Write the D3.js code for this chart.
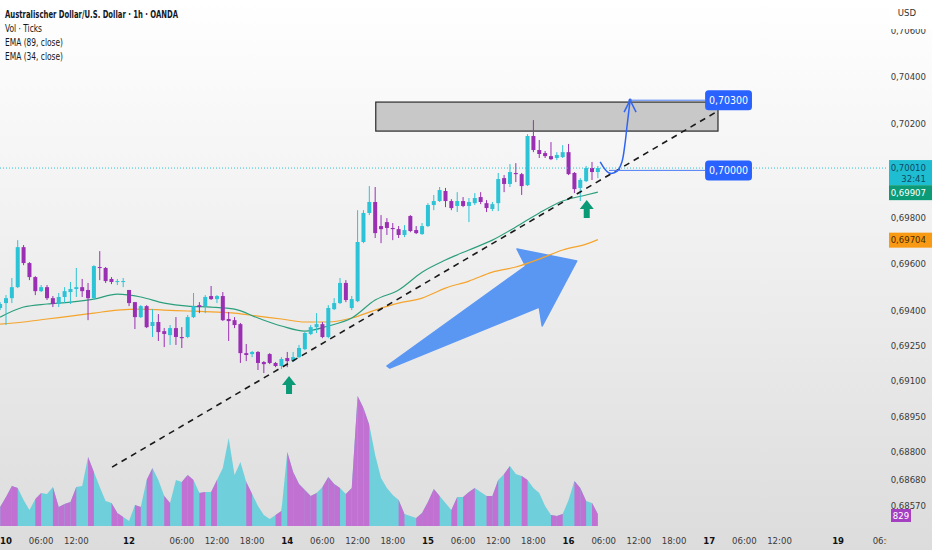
<!DOCTYPE html>
<html>
<head>
<meta charset="utf-8">
<script src="https://cdn.jsdelivr.net/npm/d3@7"></script>
<style>
html, body { margin: 0; padding: 0; overflow: hidden; background: #fff; }
svg { display: block; font-family: "Liberation Sans Narrow", "Arial Narrow", "DejaVu Sans Condensed", sans-serif; }
</style>
</head>
<body>
<svg id="chart" width="932" height="550"></svg>
<script>
// bar index: 0 = the 10th 00:00, 1h bars, weekend removed (21 = Sunday 21:00)
const firstBar = -1;
const opens = [0.69412,
  0.69433,0.69454,0.69501,0.69672,0.69604,0.69544,0.69484,0.69501,0.69454,0.69429,
  0.69459,0.69480,0.69493,0.69501,0.69489,0.69454,0.69587,0.69583,0.69536,0.69523,
  0.69523,0.69489,0.69437,0.69373,0.69420,0.69335,0.69352,0.69313,0.69296,0.69326,
  0.69288,0.69288,0.69373,0.69424,0.69420,0.69463,0.69450,0.69463,0.69365,0.69360,
  0.69343,0.69219,0.69215,0.69224,0.69181,0.69215,0.69177,0.69164,0.69198,0.69185,
  0.69202,0.69236,0.69301,0.69330,0.69343,0.69288,0.69407,0.69433,0.69519,0.69412,
  0.69441,0.69694,0.69818,0.69865,0.69762,0.69779,0.69754,0.69749,0.69724,0.69805,
  0.69745,0.69728,0.69762,0.69852,0.69869,0.69912,0.69869,0.69848,0.69869,0.69848,
  0.69860,0.69886,0.69860,0.69835,0.69860,0.69967,0.69942,0.69989,0.69984,0.69937,
  0.70147,0.70087,0.70074,0.70061,0.70053,0.70057,0.70078,0.69989,0.69925,0.69954,
  0.70010,0.69993];
const highs = [0.69437,
  0.69467,0.69540,0.69702,0.69681,0.69608,0.69548,0.69510,0.69510,0.69463,0.69476,
  0.69501,0.69523,0.69583,0.69536,0.69519,0.69595,0.69655,0.69587,0.69544,0.69536,
  0.69540,0.69489,0.69437,0.69424,0.69424,0.69407,0.69386,0.69326,0.69339,0.69373,
  0.69330,0.69382,0.69476,0.69437,0.69467,0.69506,0.69467,0.69480,0.69395,0.69373,
  0.69348,0.69258,0.69228,0.69228,0.69185,0.69219,0.69181,0.69202,0.69224,0.69224,
  0.69254,0.69309,0.69339,0.69390,0.69352,0.69424,0.69454,0.69540,0.69531,0.69463,
  0.69830,0.69830,0.69933,0.69929,0.69809,0.69796,0.69775,0.69762,0.69766,0.69809,
  0.69762,0.69775,0.69860,0.69895,0.69929,0.69925,0.69877,0.69907,0.69886,0.69882,
  0.69903,0.69907,0.69873,0.69865,0.69989,0.69980,0.70027,0.70031,0.69989,0.70155,
  0.70215,0.70130,0.70083,0.70121,0.70078,0.70108,0.70113,0.69993,0.69967,0.70019,
  0.70036,0.70019];
const lows = [0.69403,
  0.69339,0.69433,0.69497,0.69595,0.69531,0.69467,0.69480,0.69446,0.69416,0.69416,
  0.69433,0.69429,0.69459,0.69459,0.69360,0.69446,0.69531,0.69519,0.69514,0.69510,
  0.69501,0.69420,0.69322,0.69369,0.69326,0.69288,0.69271,0.69245,0.69254,0.69254,
  0.69241,0.69283,0.69369,0.69390,0.69390,0.69446,0.69433,0.69356,0.69271,0.69326,
  0.69177,0.69185,0.69202,0.69147,0.69134,0.69172,0.69159,0.69151,0.69159,0.69181,
  0.69198,0.69232,0.69296,0.69305,0.69283,0.69283,0.69403,0.69429,0.69437,0.69403,
  0.69437,0.69689,0.69809,0.69711,0.69689,0.69724,0.69702,0.69711,0.69715,0.69736,
  0.69728,0.69724,0.69758,0.69830,0.69865,0.69843,0.69830,0.69822,0.69843,0.69779,
  0.69852,0.69856,0.69822,0.69826,0.69826,0.69907,0.69929,0.69950,0.69895,0.69933,
  0.70078,0.70053,0.70053,0.70044,0.70044,0.70053,0.69980,0.69903,0.69869,0.69950,
  0.69959,0.69967];
const closes = [0.69429,
  0.69454,0.69501,0.69672,0.69604,0.69544,0.69484,0.69501,0.69454,0.69429,0.69459,
  0.69484,0.69493,0.69501,0.69484,0.69454,0.69591,0.69583,0.69527,0.69523,0.69527,
  0.69527,0.69433,0.69373,0.69420,0.69330,0.69352,0.69309,0.69301,0.69326,0.69288,
  0.69283,0.69373,0.69420,0.69416,0.69459,0.69450,0.69463,0.69360,0.69356,0.69339,
  0.69219,0.69211,0.69224,0.69177,0.69172,0.69177,0.69164,0.69194,0.69185,0.69202,
  0.69241,0.69305,0.69330,0.69343,0.69288,0.69412,0.69433,0.69519,0.69446,0.69450,
  0.69694,0.69818,0.69865,0.69732,0.69749,0.69754,0.69749,0.69724,0.69745,0.69741,
  0.69732,0.69762,0.69852,0.69869,0.69916,0.69869,0.69839,0.69869,0.69848,0.69865,
  0.69882,0.69865,0.69839,0.69856,0.69963,0.69942,0.69993,0.69984,0.69933,0.70147,
  0.70087,0.70070,0.70061,0.70048,0.70066,0.70078,0.69984,0.69920,0.69959,0.70010,
  0.69993,0.70010];
const volumes = [1310,
  2000,2760,2620,1790,1100,1860,2280,2210,2690,1310,
  1520,1660,2690,2760,4760,3730,2690,1730,1590,900,
  620,350,1450,1310,3170,4000,3170,2070,1590,3170,
  3040,3520,3170,2280,2350,2350,3170,4000,6070,3520,
  4420,3040,2210,1380,760,480,760,1040,5110,3730,
  2900,2480,2070,2280,2690,3380,2900,2620,2210,2620,
  8970,8140,6970,4900,3310,2620,2140,1790,830,690,
  550,900,1660,2550,2070,1590,1100,2000,2000,2350,
  2620,2350,2070,2070,3170,3590,4140,3590,3450,3170,
  2620,2280,1380,760,690,830,1790,3110,2620,1730,
  1590,829];

// EMA values at every 4th bar
const emaBars = [-1,3,7,11,15,19,23,27,31,35,39,43,47,51,55,59,63,67,71,75,79,83,87,91,95,99,101];
const ema34 = [0.69373,0.69416,0.69429,0.69437,0.69450,0.69471,0.69459,0.69433,0.69420,0.69416,0.69407,0.69369,0.69335,0.69313,0.69335,0.69369,0.69446,0.69489,0.69565,0.69617,0.69660,0.69702,0.69758,0.69818,0.69869,0.69895,0.69907];
const ema89 = [0.69343,0.69352,0.69365,0.69377,0.69390,0.69403,0.69407,0.69403,0.69399,0.69395,0.69390,0.69377,0.69365,0.69352,0.69352,0.69369,0.69403,0.69433,0.69454,0.69497,0.69527,0.69565,0.69587,0.69621,0.69660,0.69685,0.69704];

const priceTicks = [0.706,0.704,0.702,0.698,0.696,0.694,0.6925,0.691,0.6895,0.688,0.6868,0.6857];
const timeTickBars = [0,6,12,21,30,36,42,48,54,60,66,72,78,84,90,96,102,108,114,120,126,132,142,150];
const timeTickLabels = ["10","06:00","12:00","12","06:00","12:00","18:00","14","06:00","12:00","18:00","15","06:00","12:00","18:00","16","06:00","12:00","18:00","17","06:00","12:00","19","06:00"];

// drawings (bar, price)
const zoneBars = [63.1, 121.5], zonePrices = [0.70292, 0.70168];
const trendBars = [18.1, 121.5], trendPrices = [0.68732, 0.70254];
const bigArrowBars = [65.0, 88.7, 87.2, 97.4, 91.5, 91.0, 65.5];
const bigArrowPrices = [0.69164, 0.69591, 0.69664, 0.69613, 0.69335, 0.69416, 0.69155];
const signalBars = [48.3, 99.1], signalPrices = [0.69121, 0.69873];
const pathBars = [101.4, 102.9, 104.3, 105.1, 105.6, 106.0, 106.5];
const pathPrices = [0.70036, 0.69989, 0.69997, 0.70036, 0.70108, 0.70194, 0.70300];
const targetLevels = [0.70300, 0.70000], targetFrom = [106.5, 102.9], targetLabelBars = [119.3, 127.3];

const lastPrice = 0.70010, countdown = "32:41";

const W = 932, H = 550, plotRight = 887, plotBottom = 527;
const UP = "#2cc3d6", DOWN = "#9b2fb4";
const fmt = v => d3.format(".5f")(v).replace(".", ",");

const x = d3.scaleLinear().domain([0, 100]).range([6, 592]);
const y = d3.scaleLinear().domain([0.6857, 0.706]).range([505, 30]);
const yVol = d3.scaleLinear().domain([0, 8970]).range([526, 396]);

const candles = opens.map((o, i) => ({bar: firstBar + i, o: o, h: highs[i], l: lows[i], c: closes[i], v: volumes[i]}));

const svg = d3.select("#chart");
const defs = svg.append("defs");
const grad = defs.append("linearGradient").attr("id", "bg").attr("x1", 0).attr("y1", 0).attr("x2", 0).attr("y2", 1);
grad.append("stop").attr("offset", "0%").attr("stop-color", "#ffffff");
grad.append("stop").attr("offset", "50%").attr("stop-color", "#eeeeee");
grad.append("stop").attr("offset", "100%").attr("stop-color", "#dcdcdc");
defs.append("clipPath").attr("id", "plot").append("rect").attr("width", plotRight).attr("height", plotBottom);
// the volume pane paints the segment leading into an up bar purple, into a down bar cyan
defs.append("clipPath").attr("id", "upvol").selectAll("rect")
  .data(candles.filter(d => d.c >= d.o)).join("rect")
  .attr("x", d => x(d.bar - 1)).attr("width", x(1) - x(0))
  .attr("y", 0).attr("height", H);

svg.append("rect").attr("width", W).attr("height", H).attr("fill", "url(#bg)");

const plot = svg.append("g").attr("clip-path", "url(#plot)");

// volume
const volArea = d3.area().x(d => x(d.bar)).y0(yVol(0)).y1(d => yVol(d.v));
plot.append("path").datum(candles).attr("d", volArea).attr("fill", "#6fd0dc");
plot.append("path").datum(candles).attr("d", volArea).attr("fill", "#c071d2").attr("clip-path", "url(#upvol)");

// zone
plot.append("rect")
  .attr("x", x(zoneBars[0])).attr("width", x(zoneBars[1]) - x(zoneBars[0]))
  .attr("y", y(zonePrices[0])).attr("height", y(zonePrices[1]) - y(zonePrices[0]))
  .attr("fill", "#c8c8c8").attr("stroke", "#2a2a2a").attr("stroke-width", 1.2);

// big arrow
plot.append("polygon")
  .attr("points", bigArrowBars.map((b, i) => [x(b), y(bigArrowPrices[i])].join(",")).join(" "))
  .attr("fill", "#5a97f3").attr("stroke", "#5a97f3").attr("stroke-linejoin", "round").attr("stroke-width", 1.5);

// EMAs
const emaLine = d3.line().x((d, i) => x(emaBars[i])).y(d => y(d)).curve(d3.curveMonotoneX);
plot.append("path").datum(ema89).attr("d", emaLine).attr("fill", "none").attr("stroke", "#f5a42c").attr("stroke-width", 1.2);
plot.append("path").datum(ema34).attr("d", emaLine).attr("fill", "none").attr("stroke", "#2b9f7c").attr("stroke-width", 1.2);

// candles
const cg = plot.append("g");
cg.selectAll("line").data(candles).join("line")
  .attr("x1", d => x(d.bar)).attr("x2", d => x(d.bar))
  .attr("y1", d => y(d.h)).attr("y2", d => y(d.l))
  .attr("stroke", d => d.c >= d.o ? UP : DOWN).attr("stroke-width", 1);
cg.selectAll("rect").data(candles).join("rect")
  .attr("x", d => x(d.bar) - 2).attr("width", 4)
  .attr("y", d => y(Math.max(d.o, d.c)))
  .attr("height", d => Math.max(1, Math.abs(y(d.o) - y(d.c))))
  .attr("fill", d => d.c >= d.o ? UP : DOWN);

// trend line
plot.append("line")
  .attr("x1", x(trendBars[0])).attr("y1", y(trendPrices[0]))
  .attr("x2", x(trendBars[1])).attr("y2", y(trendPrices[1]))
  .attr("stroke", "#1a1a1a").attr("stroke-width", 1.6).attr("stroke-dasharray", "6,5");

// signal arrows
const arrowShape = [[0,0],[7,9],[3,9],[3,18],[-3,18],[-3,9],[-7,9]];
plot.selectAll("polygon.sig").data(signalBars).join("polygon").attr("class", "sig")
  .attr("points", (b, i) => arrowShape.map(p => [x(b) + p[0], y(signalPrices[i]) + p[1]].join(",")).join(" "))
  .attr("fill", "#0a9a76");

// current price line
plot.append("line").attr("x1", 0).attr("x2", plotRight)
  .attr("y1", y(lastPrice)).attr("y2", y(lastPrice))
  .attr("stroke", "#2cc3d6").attr("stroke-width", 1).attr("stroke-dasharray", "1,2");

// projection path
const BLUE = "#2f65f2";
plot.append("path").datum(pathBars)
  .attr("d", d3.line().x(b => x(b)).y((b, i) => y(pathPrices[i])).curve(d3.curveCatmullRom))
  .attr("fill", "none").attr("stroke", BLUE).attr("stroke-width", 1.5);
const tipX = x(pathBars[pathBars.length - 1]), tipY = y(pathPrices[pathPrices.length - 1]);
plot.append("path").attr("d", `M${tipX - 6},${tipY + 12}L${tipX},${tipY}L${tipX + 6},${tipY + 12}`)
  .attr("fill", "none").attr("stroke", BLUE).attr("stroke-width", 1.5);
plot.append("circle").attr("cx", tipX).attr("cy", tipY).attr("r", 1.6).attr("fill", BLUE);

// target levels
targetLevels.forEach((lv, i) => {
  plot.append("line").attr("x1", x(targetFrom[i])).attr("x2", x(targetLabelBars[0]))
    .attr("y1", y(lv)).attr("y2", y(lv)).attr("stroke", "#4d7ef5").attr("stroke-width", 1);
  const bx = x(targetLabelBars[0]), bw = x(targetLabelBars[1]) - bx;
  plot.append("rect").attr("x", bx).attr("y", y(lv) - 10).attr("width", bw).attr("height", 20)
    .attr("rx", 3.5).attr("fill", "#2962ff");
  plot.append("text").attr("x", bx + bw / 2).attr("y", y(lv) + 3.5).attr("text-anchor", "middle")
    .attr("fill", "#fff").attr("font-size", 10.5).text(fmt(lv));
});

// header
const header = [
  {t: "Australischer Dollar/U.S. Dollar · 1h · OANDA", w: 173, b: true},
  {t: "Vol · Ticks", w: 37},
  {t: "EMA (89, close)", w: 58},
  {t: "EMA (34, close)", w: 58}
];
svg.selectAll("text.hdr").data(header).join("text").attr("class", "hdr")
  .attr("x", 5).attr("y", (d, i) => 18 + i * 14)
  .attr("font-size", 10).attr("font-weight", d => d.b ? "bold" : "normal")
  .attr("fill", "#131722")
  .attr("textLength", d => d.w).attr("lengthAdjust", "spacingAndGlyphs")
  .text(d => d.t);

// time axis
svg.selectAll("text.tt").data(timeTickBars).join("text").attr("class", "tt")
  .attr("x", b => x(b)).attr("y", 544).attr("text-anchor", "middle")
  .attr("font-size", 9.5)
  .attr("font-weight", (b, i) => timeTickLabels[i].includes(":") ? "normal" : "bold")
  .attr("fill", (b, i) => timeTickLabels[i].includes(":") ? "#3a3a3a" : "#111")
  .text((b, i) => timeTickLabels[i]);

// right price scale
const axisG = svg.append("g");
axisG.append("rect").attr("x", plotRight).attr("width", W - plotRight).attr("height", H).attr("fill", "url(#bg)");
axisG.selectAll("text.pt").data(priceTicks).join("text").attr("class", "pt")
  .attr("x", 926).attr("y", d => y(d) + 3.5).attr("text-anchor", "end")
  .attr("font-size", 9.5).attr("fill", "#3a3a3a").text(fmt);
axisG.append("rect").attr("x", 889).attr("y", 0).attr("width", 43).attr("height", 29).attr("fill", "#ffffff");
axisG.append("text").attr("x", 907).attr("y", 16).attr("text-anchor", "middle")
  .attr("font-size", 9.5).attr("fill", "#333").text("USD");

function tag(val, top, h, fill, color, lines) {
  axisG.append("rect").attr("x", 889).attr("y", top).attr("width", 43).attr("height", h).attr("fill", fill);
  lines.forEach((s, i) => axisG.append("text").attr("x", 926).attr("y", top + 10.5 + i * 11)
    .attr("text-anchor", "end").attr("font-size", 9.5).attr("fill", color).text(s));
}
const lastE34 = ema34[ema34.length - 1], lastE89 = ema89[ema89.length - 1];
tag(lastPrice, y(lastPrice) - 8, 25, "#1fbdd2", "#0f4a63", [fmt(lastPrice), countdown]);
tag(lastE34, y(lastE34) - 7, 15, "#0b9b76", "#ffffff", [fmt(lastE34)]);
tag(lastE89, y(lastE89) - 7, 15, "#f89a14", "#4a2a00", [fmt(lastE89)]);

const lastVol = volumes[volumes.length - 1];
axisG.append("rect").attr("x", 891).attr("y", yVol(lastVol) - 5).attr("width", 20).attr("height", 13).attr("fill", "#a53fc2");
axisG.append("text").attr("x", 901).attr("y", yVol(lastVol) + 5).attr("text-anchor", "middle")
  .attr("font-size", 9.5).attr("fill", "#fff").text(lastVol);
</script>
</body>
</html>
